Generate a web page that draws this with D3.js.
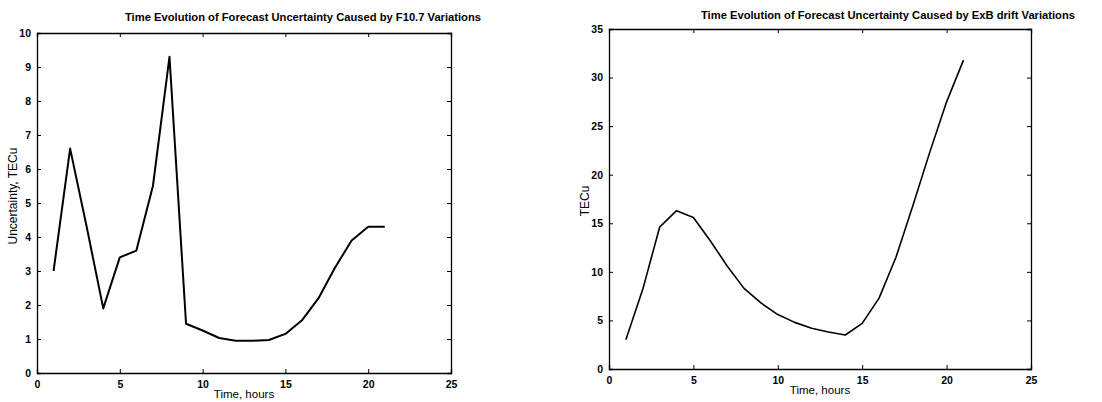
<!DOCTYPE html>
<html>
<head>
<meta charset="utf-8">
<script src="https://cdn.jsdelivr.net/npm/d3@7"></script>
<style>
body { margin: 0; background: #fff; }
text { font-family: "Liberation Sans", Arial, sans-serif; fill: #000; }
</style>
</head>
<body>
<div id="chart"></div>
<script>
(function(){
var width = 1102,
	height = 402;

// data
var hours = d3.range(1, 22);
var f107 = [3.0, 6.6, 4.3, 1.9, 3.4, 3.6, 5.5, 9.3, 1.45, 1.25, 1.03, 0.95, 0.95, 0.97, 1.15, 1.55, 2.2, 3.1, 3.9, 4.3, 4.3];
var exb = [3.0, 8.2, 14.6, 16.3, 15.6, 13.2, 10.6, 8.3, 6.8, 5.6, 4.8, 4.2, 3.8, 3.5, 4.7, 7.3, 11.5, 16.8, 22.3, 27.5, 31.8];
var xTicks = [0, 5, 10, 15, 20, 25];
var yTicksLeft = d3.range(0, 11);
var yTicksRight = [0, 5, 10, 15, 20, 25, 30, 35];

var panels = [
	{ title: "Time Evolution of Forecast Uncertainty Caused by F10.7 Variations", ylabel: "Uncertainty, TECu",
	  values: f107, ymax: 10, yticks: yTicksLeft, box: {l:37, r:451, t:33, b:373}, lw: 2,
	  titleX: 303, titleY: 21, ylabX: 17, ylabY: 196 },
	{ title: "Time Evolution of Forecast Uncertainty Caused by ExB drift Variations", ylabel: "TECu",
	  values: exb, ymax: 35, yticks: yTicksRight, box: {l:609, r:1031, t:29, b:369}, lw: 1.6,
	  titleX: 888, titleY: 19, ylabX: 589, ylabY: 201 }
];

var svg = d3.select("#chart").append("svg")
	.attr("width", width)
	.attr("height", height);

panels.forEach(function(p){
	var X = d3.scaleLinear().domain([0, 25]).range([p.box.l, p.box.r]);
	var Y = d3.scaleLinear().domain([0, p.ymax]).range([p.box.b, p.box.t]);
	var g = svg.append("g");

	// axes with inward ticks on all sides
	g.append("g").attr("transform", "translate(0," + p.box.b + ")")
		.call(d3.axisBottom(X).tickValues(xTicks).tickSize(-4).tickPadding(8).tickFormat(d3.format("d")));
	g.append("g").attr("transform", "translate(0," + p.box.t + ")")
		.call(d3.axisTop(X).tickValues(xTicks).tickSize(-4).tickFormat(""));
	g.append("g").attr("transform", "translate(" + p.box.l + ",0)")
		.call(d3.axisLeft(Y).tickValues(p.yticks).tickSize(-4).tickPadding(6).tickFormat(d3.format("d")));
	g.append("g").attr("transform", "translate(" + p.box.r + ",0)")
		.call(d3.axisRight(Y).tickValues(p.yticks).tickSize(-4).tickFormat(""));

	g.selectAll(".domain").attr("stroke", "#000").attr("stroke-width", 1.3);
	g.selectAll(".tick line").attr("stroke", "#000").attr("stroke-width", 1);
	g.selectAll(".tick text").attr("font-size", 10.5).attr("font-weight", "bold")
		.style("font-family", "'Liberation Sans', Arial, sans-serif");

	var line = d3.line()
		.x(function(d, i){ return X(hours[i]); })
		.y(function(d){ return Y(d); });

	g.append("path").datum(p.values)
		.attr("d", line)
		.attr("fill", "none")
		.attr("stroke", "#000")
		.attr("stroke-width", p.lw)
		.attr("stroke-linejoin", "round");

	g.append("text")
		.attr("x", p.titleX).attr("y", p.titleY)
		.attr("text-anchor", "middle")
		.attr("font-size", 11.2).attr("font-weight", "bold")
		.text(p.title);

	g.append("text")
		.attr("x", (p.box.l + p.box.r) / 2).attr("y", p.box.b + 25)
		.attr("text-anchor", "middle")
		.attr("font-size", 11.5)
		.text("Time, hours");

	g.append("text")
		.attr("transform", "translate(" + p.ylabX + "," + p.ylabY + ") rotate(-90)")
		.attr("text-anchor", "middle")
		.attr("font-size", 12)
		.text(p.ylabel);
});
})();
</script>
</body>
</html>
